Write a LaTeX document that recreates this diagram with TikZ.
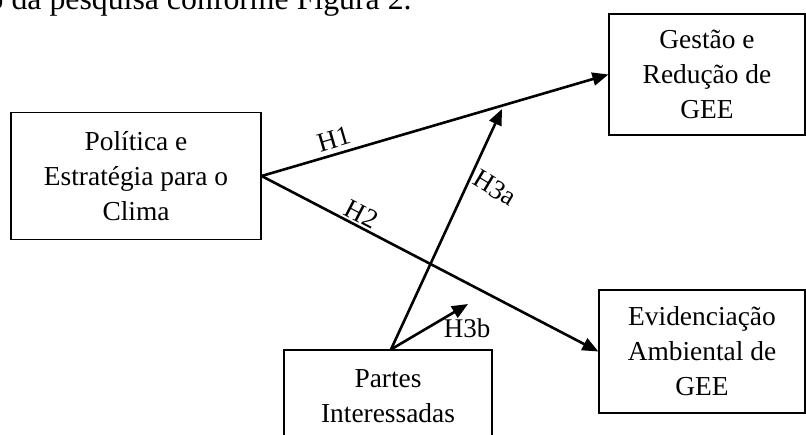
\documentclass[tikz,border=0pt]{standalone}
\usepackage{fontspec}
\setmainfont{Liberation Serif}
\usetikzlibrary{positioning, arrows.meta}

\begin{document}
\begin{tikzpicture}[
  x=0.5pt, y=-0.5pt,
  construct/.style={draw, rectangle, line width=0.6pt, align=center, inner sep=0pt,
    font=\fontsize{13.7}{17.5}\selectfont},
  arrow/.style={-{Triangle[length=8pt, width=6.5pt]}, line width=1.3pt},
  hyp/.style={inner sep=1pt, font=\fontsize{13.5}{15}\selectfont}
]
\useasboundingbox (0,0) rectangle (806,434);

% Running text above the figure (cut off)
\node[anchor=base east, inner sep=0pt, font=\fontsize{15.9}{18}\selectfont] (texto) at (412,9) {o da pesquisa conforme Figura 2.};

% Constructs
\node[construct, minimum width=125pt, minimum height=63.5pt] (politica) at (136,176) {Política e\\Estratégia para o\\Clima};
\node[construct, minimum width=98pt, minimum height=60.5pt] (gestao) at (707,74.5) {Gestão e\\Redução de\\GEE};
\node[construct, minimum width=103pt, minimum height=61.5pt] (evid) at (702,351.5) {Evidenciação\\Ambiental de\\GEE};
\node[construct, minimum width=104pt, minimum height=46pt] (partes) at (388,396) {Partes\\Interessadas};

% Free ends of the moderating arrows
\coordinate (h3aend) at (502,109);
\coordinate (h3bend) at (468,304);

% Hypotheses H1, H2
\draw[arrow] (politica.east) -- (gestao.west) node[hyp, pos=0.22, sloped, above=1.5pt] {H1};
\draw[arrow] (politica.east) -- (evid.west) node[hyp, pos=0.28, sloped, above=0pt] {H2};

% Hypotheses H3a, H3b
\draw[arrow] ([xshift=1.5pt]partes.north) -- (h3aend);
\draw[arrow] ([xshift=1.5pt]partes.north) -- (h3bend);
\node[hyp, rotate=-31] (lblh3a) at (495,188) {H3a};
\node[hyp] (lblh3b) at (467,328) {H3b};

\end{tikzpicture}
\end{document}
